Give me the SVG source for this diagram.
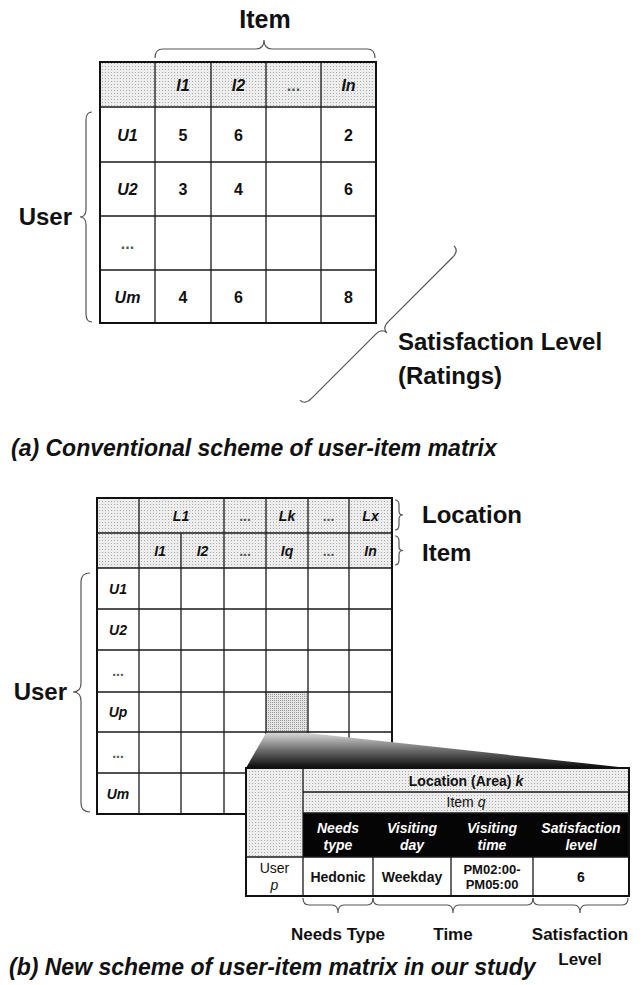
<svg xmlns="http://www.w3.org/2000/svg" width="643" height="985" viewBox="0 0 643 985">
<defs>
<pattern id="stip" width="3" height="3" patternUnits="userSpaceOnUse"><rect width="3" height="3" fill="#ededed"/><rect width="1" height="1" fill="#ababab"/></pattern>
<pattern id="stipD" width="2" height="2" patternUnits="userSpaceOnUse"><rect width="2" height="2" fill="#e4e4e4"/><rect width="1" height="1" fill="#9a9a9a"/></pattern>
<linearGradient id="zoomGrad" x1="0" y1="0" x2="0" y2="1"><stop offset="0" stop-color="#d6d6d6"/><stop offset="0.5" stop-color="#6a6a6a"/><stop offset="1" stop-color="#0a0a0a"/></linearGradient>
<style>
text{font-family:"Liberation Sans",Arial,sans-serif;fill:#111}
.b{font-weight:bold}
.bi{font-weight:bold;font-style:italic}
.i{font-style:italic}
.mid{text-anchor:middle}
.big{font-size:24px;font-weight:bold}
.cap{font-size:23px;font-weight:bold;font-style:italic}
.t16{font-size:16px}
.t14{font-size:14px}
.t13{font-size:13px}
.t17{font-size:17px;font-weight:bold}
.dots{fill:#555}
.grid{stroke:#1a1a1a;stroke-width:1.3;fill:none}
.outer{stroke:#111;stroke-width:2;fill:none}
.brace{stroke:#555;stroke-width:1.2;fill:none}
.w{fill:#fff}
</style>
</defs>
<rect width="643" height="985" fill="#fff"/>

<!-- (a) conventional matrix -->
<g id="table-a">
<rect x="100" y="62" width="276" height="45" fill="url(#stip)"/>
<path class="grid" d="M155 62V323M211 62V323M266 62V323M321 62V323M100 107H376M100 162H376M100 216H376M100 270H376"/>
<rect class="outer" x="100" y="62" width="276" height="261"/>
<g class="t16 mid">
<text class="bi" x="183" y="91">I1</text>
<text class="bi" x="238.5" y="91">I2</text>
<text class="b dots" x="293.5" y="91">...</text>
<text class="bi" x="348.5" y="91">In</text>
<text class="bi" x="127.5" y="141">U1</text>
<text class="bi" x="127.5" y="195">U2</text>
<text class="b dots" x="127.5" y="249">...</text>
<text class="bi" x="127.5" y="303">Um</text>
<text class="b" x="183" y="141">5</text><text class="b" x="238.5" y="141">6</text><text class="b" x="348.5" y="141">2</text>
<text class="b" x="183" y="195">3</text><text class="b" x="238.5" y="195">4</text><text class="b" x="348.5" y="195">6</text>
<text class="b" x="183" y="303">4</text><text class="b" x="238.5" y="303">6</text><text class="b" x="348.5" y="303">8</text>
</g>
</g>

<g id="labels-a">
<text class="big mid" x="265" y="28" style="font-size:25px">Item</text>
<text class="big" x="72" y="225" text-anchor="end">User</text>
<text class="big" x="398" y="350">Satisfaction Level</text>
<text class="big" x="398" y="384">(Ratings)</text>
<text class="cap" x="11" y="456">(a) Conventional scheme of user-item matrix</text>
</g>

<!-- (b) new matrix -->
<g id="table-b">
<rect x="97" y="498" width="295" height="70" fill="url(#stip)"/>
<rect x="266" y="692" width="42" height="40" fill="url(#stipD)"/>
<path class="grid" d="M139 498V814M181 533V814M224 498V814M266 498V814M308 498V814M349 498V814M97 533H392M97 568H392M97 609H392M97 650H392M97 692H392M97 732H392M97 773H392"/>
<rect class="outer" x="97" y="498" width="295" height="316"/>
<g class="t14 mid">
<text class="bi" x="181" y="521">L1</text>
<text class="b dots" x="245" y="521">...</text>
<text class="bi" x="287" y="521">Lk</text>
<text class="b dots" x="328.5" y="521">...</text>
<text class="bi" x="370.5" y="521">Lx</text>
<text class="bi" x="160" y="556">I1</text>
<text class="bi" x="202.5" y="556">I2</text>
<text class="b dots" x="245" y="556">...</text>
<text class="bi" x="287" y="556">Iq</text>
<text class="b dots" x="328.5" y="556">...</text>
<text class="bi" x="370.5" y="556">In</text>
<text class="bi" x="118" y="594">U1</text>
<text class="bi" x="118" y="635">U2</text>
<text class="b dots" x="118" y="676">...</text>
<text class="bi" x="118" y="717">Up</text>
<text class="b dots" x="118" y="758">...</text>
<text class="bi" x="118" y="799">Um</text>
</g>
</g>

<g id="popup">
<polygon points="266,733 308,733 628,768 246,768" fill="url(#zoomGrad)"/>
<rect x="246" y="768" width="383" height="128" fill="#fff"/>
<rect x="246" y="768" width="57" height="89" fill="url(#stip)"/>
<rect x="303" y="768" width="326" height="45" fill="url(#stip)"/>
<rect x="303" y="813" width="326" height="44" fill="#050505"/>
<path class="grid" d="M303 768V896M303 792H629M303 813H629M246 857H629M373 857V896M451 857V896M533 857V896"/>
<rect class="outer" x="246" y="768" width="383" height="128"/>
<g class="mid">
<text class="b t14" x="466" y="786">Location (Area) <tspan class="i">k</tspan></text>
<text class="t14" x="466" y="807">Item <tspan class="i">q</tspan></text>
<g class="bi t14" style="fill:#fff">
<text class="w" x="338" y="833">Needs</text><text class="w" x="338" y="850">type</text>
<text class="w" x="412" y="833">Visiting</text><text class="w" x="412" y="850">day</text>
<text class="w" x="492" y="833">Visiting</text><text class="w" x="492" y="850">time</text>
<text class="w" x="581" y="833">Satisfaction</text><text class="w" x="581" y="850">level</text>
</g>
<text class="t14" x="274.5" y="873">User</text>
<text class="t14 i" x="274.5" y="890">p</text>
<text class="b t14" x="338" y="882">Hedonic</text>
<text class="b t14" x="412" y="882">Weekday</text>
<text class="b t13" x="492" y="874">PM02:00-</text>
<text class="b t13" x="492" y="889">PM05:00</text>
<text class="b t14" x="581" y="882">6</text>
</g>
</g>

<g id="labels-b">
<text class="big" x="67" y="700" text-anchor="end">User</text>
<text class="big" x="422" y="523">Location</text>
<text class="big" x="422" y="561">Item</text>
<text class="t17 mid" x="338" y="940">Needs Type</text>
<text class="t17 mid" x="453" y="940">Time</text>
<text class="t17 mid" x="580" y="940">Satisfaction</text>
<text class="t17 mid" x="580" y="965">Level</text>
<text class="cap" x="9" y="975">(b) New scheme of user-item matrix in our study</text>
</g>

<g id="connectors">
<path class="brace" d="M155 58 Q155 49 163 49 L256 49 Q264 49 264 40 Q264 49 272 49 L367 49 Q375 49 375 58"/>
<path class="brace" d="M92 112 Q86 112 86 120 L86 209 Q86 217 80 217 Q86 217 86 225 L86 314 Q86 322 92 322"/>
<path class="brace" transform="translate(377,323) rotate(-45)" d="M-109 0 Q-109 7 -100 7 L-9 7 Q0 7 0 14 Q0 7 9 7 L100 7 Q109 7 109 0"/>
<path class="brace" d="M90 573 Q81 573 81 582 L81 683 Q81 692 73 692 Q81 692 81 701 L81 803 Q81 812 90 812"/>
<path class="brace" d="M395 500 Q399 500 399 505 L399 511 Q399 515 403 515 Q399 515 399 519 L399 525 Q399 530 395 530"/>
<path class="brace" d="M395 536 Q399 536 399 541 L399 546.5 Q399 550.5 403 550.5 Q399 550.5 399 554.5 L399 560 Q399 565 395 565"/>
<path class="brace" d="M303 898 Q303 905 309 905 L332 905 Q338 905 338 913 Q338 905 344 905 L367 905 Q373 905 373 898"/>
<path class="brace" d="M373 898 Q373 905 379 905 L447 905 Q453 905 453 913 Q453 905 459 905 L527 905 Q533 905 533 898"/>
<path class="brace" d="M533 898 Q533 905 539 905 L574 905 Q580 905 580 913 Q580 905 586 905 L622 905 Q628 905 628 898"/>
</g>
</svg>
